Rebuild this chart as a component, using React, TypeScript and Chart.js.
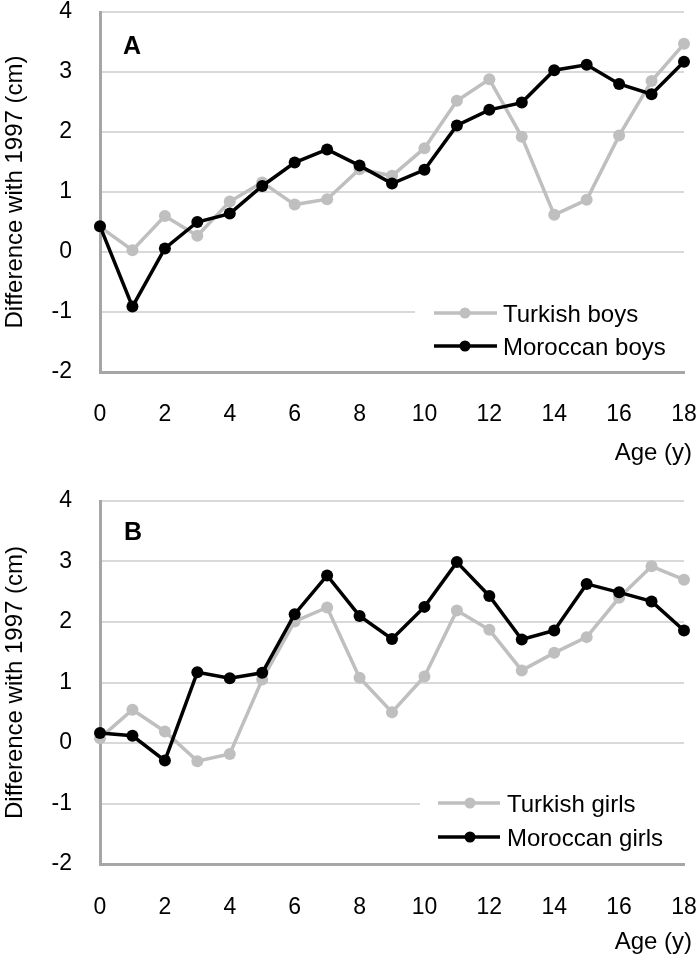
import React, { useEffect, useRef } from "react";
import { Chart, registerables } from "chart.js";

Chart.register(...registerables);

const FONT = '"Liberation Sans", Arial, Helvetica, sans-serif';

// ---- data ----
const ages = [0, 1, 2, 3, 4, 5, 6, 7, 8, 9, 10, 11, 12, 13, 14, 15, 16, 17, 18];
const yMin = -2;
const yMax = 4;
const xMin = 0;
const xMax = 18;

const turkishBoys = [0.42, 0.03, 0.6, 0.27, 0.84, 1.16, 0.79, 0.88, 1.38, 1.27, 1.73, 2.52, 2.88, 1.92, 0.62, 0.87, 1.94, 2.85, 3.47];
const moroccanBoys = [0.43, -0.91, 0.06, 0.5, 0.64, 1.1, 1.49, 1.71, 1.44, 1.14, 1.37, 2.11, 2.37, 2.49, 3.03, 3.12, 2.8, 2.63, 3.17];
const turkishGirls = [0.08, 0.55, 0.19, -0.3, -0.18, 1.05, 2.01, 2.24, 1.08, 0.51, 1.1, 2.19, 1.87, 1.2, 1.49, 1.75, 2.4, 2.92, 2.7];
const moroccanGirls = [0.165, 0.12, -0.29, 1.17, 1.07, 1.16, 2.13, 2.77, 2.1, 1.72, 2.25, 2.99, 2.43, 1.71, 1.86, 2.63, 2.49, 2.34, 1.86];

const seriesNamesA = ["Turkish boys", "Moroccan boys"];
const seriesNamesB = ["Turkish girls", "Moroccan girls"];
const panelLetters = ["A", "B"];
const yTitle = "Difference with 1997 (cm)";
const xTitle = "Age (y)";

const GRAY = "#bfbfbf";
const BLACK = "#000000";

type PanelCfg = {
  letter: string;
  names: string[];
  values: number[][];
  height: number;
  chartTop: number;
  chartBottom: number;
  xTickPad: number;
  legend: {
    boxLeft: number;
    boxTop: number;
    boxBottom: number;
    lineX0: number;
    lineX1: number;
    markX: number;
    textX: number;
    rows: number[];
    textDy: number;
  };
  letterPos: { x: number; y: number };
  ageY: number;
};

const panelA: PanelCfg = {
  letter: panelLetters[0],
  names: seriesNamesA,
  values: [turkishBoys, moroccanBoys],
  height: 476,
  chartTop: 12,
  chartBottom: 372,
  xTickPad: 29,
  legend: { boxLeft: 415, boxTop: 296, boxBottom: 366, lineX0: 434, lineX1: 497, markX: 465, textX: 503, rows: [313, 346], textDy: 2 },
  letterPos: { x: 132, y: 47 },
  ageY: 453,
};

const panelB: PanelCfg = {
  letter: panelLetters[1],
  names: seriesNamesB,
  values: [turkishGirls, moroccanGirls],
  height: 479,
  chartTop: 21,
  chartBottom: 384,
  xTickPad: 30,
  legend: { boxLeft: 420, boxTop: 306, boxBottom: 377, lineX0: 438, lineX1: 500, markX: 470, textX: 507, rows: [323, 357], textDy: 2 },
  letterPos: { x: 133, y: 53 },
  ageY: 462,
};

function clearPad(scale: any) {
  scale.paddingTop = 0;
  scale.paddingBottom = 0;
  scale.paddingLeft = 0;
  scale.paddingRight = 0;
}

function Panel({ cfg, top }: { cfg: PanelCfg; top: number }) {
  const ref = useRef<HTMLCanvasElement | null>(null);

  useEffect(() => {
    const canvas = ref.current;
    if (!canvas) return;
    const colors = [GRAY, BLACK];

    const overlay = {
      id: "overlay",
      afterDatasetsDraw(chart: any) {
        const ctx = chart.ctx as CanvasRenderingContext2D;
        const lg = cfg.legend;
        const right = chart.chartArea.right + 3;
        ctx.save();
        ctx.fillStyle = "#ffffff";
        ctx.fillRect(lg.boxLeft, lg.boxTop, right - lg.boxLeft, lg.boxBottom - lg.boxTop);
        chart.data.datasets.forEach((ds: any, i: number) => {
          const y = lg.rows[i];
          ctx.strokeStyle = ds.borderColor;
          ctx.lineWidth = 3.5;
          ctx.beginPath();
          ctx.moveTo(lg.lineX0, y);
          ctx.lineTo(lg.lineX1, y);
          ctx.stroke();
          ctx.fillStyle = ds.borderColor;
          ctx.beginPath();
          ctx.arc(lg.markX, y, 5.5, 0, Math.PI * 2);
          ctx.fill();
          ctx.fillStyle = "#000";
          ctx.font = `24px ${FONT}`;
          ctx.textAlign = "left";
          ctx.textBaseline = "middle";
          ctx.fillText(ds.label, lg.textX, y + lg.textDy);
        });
        ctx.fillStyle = "#000";
        ctx.font = `bold 25px ${FONT}`;
        ctx.textAlign = "center";
        ctx.textBaseline = "middle";
        ctx.fillText(cfg.letter, cfg.letterPos.x, cfg.letterPos.y);
        ctx.font = `24px ${FONT}`;
        ctx.textAlign = "right";
        ctx.fillText(xTitle, 692, cfg.ageY);
        ctx.restore();
      },
    };

    const chart = new Chart(canvas, {
      type: "line",
      data: {
        datasets: cfg.names.map((name, i) => ({
          label: name,
          data: ages.map((a, j) => ({ x: a, y: cfg.values[i][j] })),
          borderColor: colors[i],
          backgroundColor: colors[i],
          pointBackgroundColor: colors[i],
          pointBorderWidth: 0,
          pointRadius: 6,
          borderWidth: 3.5,
          tension: 0,
          fill: false,
          clip: false as any,
          order: i === 0 ? 1 : 0,
        })),
      },
      options: {
        responsive: false,
        animation: false,
        events: [],
        layout: {
          autoPadding: false,
          padding: { top: cfg.chartTop, right: 16, left: 0, bottom: 0 },
        },
        plugins: {
          legend: { display: false },
          tooltip: { enabled: false },
          title: { display: false },
        },
        scales: {
          x: {
            type: "linear",
            min: xMin,
            max: xMax,
            afterFit: (scale: any) => {
              scale.height = cfg.height - cfg.chartBottom;
              clearPad(scale);
            },
            ticks: {
              stepSize: 2,
              color: "#000",
              padding: cfg.xTickPad,
              font: { size: 23, family: FONT },
              maxRotation: 0,
            },
            grid: { display: false, drawTicks: false },
            border: { display: true, color: "#a6a6a6", width: 3 },
          },
          y: {
            type: "linear",
            min: yMin,
            max: yMax,
            afterFit: (scale: any) => {
              scale.width = 100;
              clearPad(scale);
            },
            ticks: {
              stepSize: 1,
              color: "#000",
              padding: 28,
              font: { size: 23, family: FONT },
            },
            grid: {
              drawTicks: false,
              lineWidth: 2,
              color: (c: any) => (c.tick && c.tick.value === yMin ? "rgba(0,0,0,0)" : "#d9d9d9"),
            },
            border: { display: true, color: "#a6a6a6", width: 3 },
            title: {
              display: true,
              text: yTitle,
              color: "#000",
              font: { size: 24, family: FONT },
              padding: { top: 1, bottom: 0 },
            },
          },
        },
      },
      plugins: [overlay],
    } as any);

    return () => chart.destroy();
  }, [cfg]);

  return (
    <canvas
      ref={ref}
      width={700}
      height={cfg.height}
      style={{ position: "absolute", left: 0, top, width: 700, height: cfg.height, display: "block" }}
    />
  );
}

export default function App() {
  return (
    <div style={{ position: "absolute", left: 0, top: 0, width: 700, height: 959, background: "#ffffff", overflow: "hidden" }}>
      <Panel cfg={panelA} top={0} />
      <Panel cfg={panelB} top={480} />
    </div>
  );
}
